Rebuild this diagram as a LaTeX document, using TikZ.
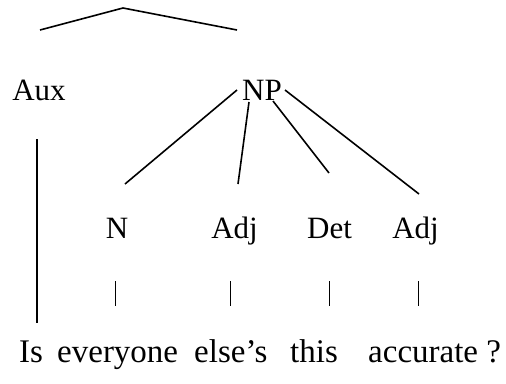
\documentclass[tikz,border=0pt]{standalone}
\usepackage{fontspec}
\setmainfont{Liberation Serif}
\begin{document}
\begin{tikzpicture}[x=1pt,y=-1pt,
  lbl/.style={inner sep=0pt,anchor=base,font=\fontsize{31}{37}\selectfont},
  wrd/.style={inner sep=0pt,anchor=base west,font=\fontsize{33}{39}\selectfont},
  branch/.style={line width=1.6pt},
  tick/.style={line width=1pt}]
\useasboundingbox (0,0) rectangle (506,383);
% top lines
\coordinate (tl) at (40,30);
\coordinate (tapex) at (123,8);
\coordinate (tr) at (237,30);
\draw[branch] (tl) -- (tapex) -- (tr);
% labels
\node[lbl] (aux) at (39,100) {Aux};
\node[lbl] (np) at (262,100) {NP};
\node[lbl] (n) at (117,238) {N};
\node[lbl] (adja) at (234.5,238) {Adj};
\node[lbl] (det) at (329.5,238) {Det};
\node[lbl] (adjb) at (415.5,238) {Adj};
% words
\node[wrd] (w1) at (19,362) {Is};
\node[wrd] (w2) at (57,362) {everyone};
\node[wrd] (w3) at (194,362) {else’s};
\node[wrd] (w4) at (290,362) {this};
\node[wrd] (w5) at (368,362) {accurate ?};
% NP branches
\coordinate (npa) at (237,90);
\coordinate (npb) at (249,102);
\coordinate (npc) at (273,101);
\coordinate (npd) at (285,90);
\coordinate (na) at (125,184);
\coordinate (nb) at (238,184);
\coordinate (nc) at (329,173);
\coordinate (nd) at (419,194);
\draw[branch] (npa) -- (na);
\draw[branch] (npb) -- (nb);
\draw[branch] (npc) -- (nc);
\draw[branch] (npd) -- (nd);
% Aux line
\coordinate (auxt) at (37,139);
\coordinate (auxb) at (37,323);
\draw[branch] (auxt) -- (auxb);
% ticks
\foreach \x/\nm in {115/a,230/b,329/c,418/d}{
  \coordinate (tt\nm) at (\x,281);
  \coordinate (tb\nm) at (\x,306);
  \draw[tick] (tt\nm) -- (tb\nm);
}
\end{tikzpicture}
\end{document}
